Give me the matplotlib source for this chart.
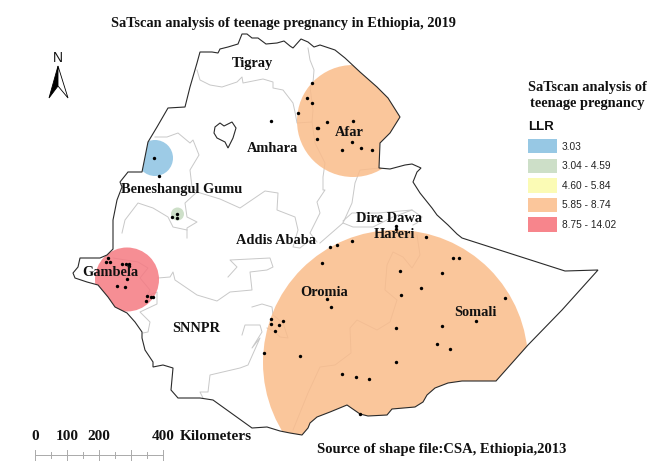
import matplotlib
matplotlib.use("Agg")
import matplotlib.pyplot as plt
from matplotlib.patches import Circle, Polygon, Rectangle

plt.rcParams['font.family'] = ['Liberation Serif', 'DejaVu Serif']

TITLE = "SaTscan analysis of teenage pregnancy in Ethiopia, 2019"
SOURCE = "Source of shape file:CSA, Ethiopia,2013"
LEGEND_TITLE = ["SaTscan analysis of", "teenage pregnancy"]
LEGEND_HEAD = "LLR"
CLASSES = ["3.03", "3.04 - 4.59", "4.60 - 5.84", "5.85 - 8.74", "8.75 - 14.02"]
CLASS_COLORS = ["#97C8E4", "#CDDFC8", "#FBFBB5", "#FBC69B", "#F7858C"]
CLUSTER_COLORS = ["#8CC2E2", "#C5DABF", "#FABC8A", "#F57A82"]

BORDER = [(200,52),(212,52),(218,53),(220,49),(228,47),(238,44),(242,34),(247,34),(252,38),(258,38),
          (266,44),(277,43),(284,41),(290,46),(293,48),(301,39),(308,42),(314,47),(320,45),(335,50),
          (345,58),(360,72),(377,87),(388,98),(400,117),(390,133),(380,143),(379,168),(390,169),(405,165),
          (412,164),(421,168),(417,172),(413,182),(420,193),(432,208),(437,215),(448,225),(457,234),(462,238),
          (565,271),(598,270),(562,310),(528,345),(496,381),(462,381),(448,383),(435,388),(427,395),(423,402),
          (415,407),(392,409),(387,415),(368,416),(360,414),(347,405),(330,412),(317,417),(310,423),(308,428),
          (302,435),(290,433),(280,431),(267,427),(252,428),(213,400),(200,398),(178,398),(171,390),(173,368),
          (163,365),(153,367),(153,362),(145,350),(142,338),(142,332),(135,322),(127,313),(115,307),(108,297),
          (98,285),(87,282),(75,278),(73,273),(78,267),(80,258),(90,258),(100,258),(107,255),(113,249),
          (113,235),(113,220),(117,200),(122,187),(120,182),(128,172),(142,172),(145,157),(148,142),(157,127),
          (168,108),(185,107),(190,87),(197,63)]
LAKE = [(215,127),(220,123),(224,126),(232,122),(236,128),(233,138),(228,148),(225,142),(217,138),(214,133)]

INTERNAL = [
    [(197,70),(200,80),(210,85),(222,87),(237,82),(242,77),(243,83),(263,79),(273,82),(273,88),(283,90),(293,103),(295,112),(297,123),(312,122)],
    [(308,48),(310,60),(314,70),(313,83),(310,87),(313,110),(312,122),(315,143),(325,163),(323,177),(323,190),(325,190),(317,202),(320,213),(310,233),(317,242)],
    [(197,192),(220,199),(240,208),(265,191),(278,193),(277,210),(295,217),(298,230),(293,247),(300,248),(310,240)],
    [(380,168),(360,170),(355,183),(352,203),(343,223),(320,243)],
    [(343,223),(353,227),(373,227),(393,217),(412,210),(422,217),(417,223),(413,225)],
    [(343,221),(352,213),(378,213),(412,210)],
    [(417,235),(420,255),(412,268),(403,257),(393,252),(387,265),(385,290),(397,300),(390,322),(377,330),(357,320),(350,328),(351,353),(335,365),(320,367),(308,393),(293,430)],
    [(155,137),(167,137),(178,133),(190,143),(193,140),(199,155),(190,170),(192,187),(197,192),(185,203),(187,217),(197,222),(187,228),(187,238)],
    [(122,233),(125,220),(138,203),(153,208),(168,217),(173,227),(187,230)],
    [(113,258),(138,262),(148,268),(140,278),(150,290),(147,296),(157,292),(157,304),(140,312),(150,322),(148,332),(143,333)],
    [(158,278),(170,277),(173,272),(175,280),(197,295),(217,301),(230,292),(252,290),(250,272),(267,270),(273,267),(270,258),(230,260),(237,267),(228,277)],
    [(252,307),(262,304),(272,307),(273,315),(283,323),(288,338),(280,337),(275,332),(267,328)],
    [(242,335),(245,325),(260,325),(262,332),(252,348),(260,338),(248,365),(240,368),(210,375),(208,392),(200,392),(203,398)],
]

CLUSTERS = [(155,158,18),(177.5,214,6.5),(353,121,56),(395.5,362.5,132.5),(127,279.5,32)]
CLUSTER_CLASS = [0,1,2,2,3]

POINTS_X = [312,307,312,298,327,317,318,317,271,154,159,177,177,172,353,352,342,361,372,378,396,396,
            330,337,352,322,426,400,442,453,459,421,401,505,476,396,442,437,450,396,342,356,369,360,
            327,331,271,271,283,279,275,264,300,
            108,106,110,122,126,129,129,127,117,125,147,151,153,146]
POINTS_Y = [83,98,103,113,122,128,128,139,121,158,176,214,218,217,121,142,150,148,150,220,226,229,
            247,245,241,263,237,271,273,258,258,288,295,298,321,328,326,344,349,362,374,377,379,414,
            299,307,319,324,321,325,331,353,356,
            258,262,262,264,264,264,266,279,286,287,296,297,297,301]

REGION_NAMES = ["Tigray","Amhara","Afar","Beneshangul Gumu","Dire Dawa","Hareri","Addis Ababa","Oromia","SNNPR","Gambela","Somali"]
REGION_X = [252,272,349,182,389,394,276,324,196,110,475]
REGION_Y = [63,149,132,189,218,235,240,292,328,273,312]

SCALE_LABELS = ["0","100","200","400"]
SCALE_KM = [0,100,200,400]
SCALE_STEP_KM = 50

fig = plt.figure(figsize=(6.69,4.69), dpi=100)
ax = fig.add_axes([0,0,1,1])
ax.set_xlim(0,669); ax.set_ylim(469,0); ax.axis('off')

for line in INTERNAL:
    ax.plot(*zip(*line), color='#C8C8C8', lw=0.7, zorder=1)

clip = Polygon(BORDER, closed=True, transform=ax.transData, fc='none', ec='none')
ax.add_patch(clip)
for (cx,cy,r),k in zip(CLUSTERS,CLUSTER_CLASS):
    c = Circle((cx,cy), r, fc=CLUSTER_COLORS[k], ec='none', alpha=0.85, zorder=2)
    ax.add_patch(c); c.set_clip_path(clip)

ax.add_patch(Polygon(BORDER, closed=True, fc='none', ec='#2a2a2a', lw=0.8, zorder=3))
ax.add_patch(Polygon(LAKE, closed=True, fc='white', ec='#2a2a2a', lw=0.8, zorder=3))
ax.scatter(POINTS_X, POINTS_Y, s=6, c='black', lw=0, zorder=4)

for name,x,y in zip(REGION_NAMES,REGION_X,REGION_Y):
    ax.text(x,y,name,ha='center',va='center',fontsize=10.4,fontweight='bold',color='#111',zorder=5)

ax.text(283.5,24,TITLE,ha='center',va='center',fontsize=10.4,fontweight='bold',color='#111')
ax.text(442,449,SOURCE,ha='center',va='center',fontsize=10.5,fontweight='bold',color='#111')

# north arrow
ax.text(58,58,"N",ha='center',va='center',fontsize=10,family='Liberation Sans',color='#111')
ax.add_patch(Polygon([(58,66),(49,98),(58,86)],closed=True,fc='black',ec='black',lw=0.6))
ax.add_patch(Polygon([(58,66),(68,98),(58,86)],closed=True,fc='white',ec='black',lw=0.6))

# legend
for i,t in enumerate(LEGEND_TITLE):
    ax.text(587,87+17*i,t,ha='center',va='center',fontsize=10.4,fontweight='bold',color='#111')
ax.text(528,127,LEGEND_HEAD,ha='left',va='center',fontsize=9.5,fontweight='bold',family='Liberation Sans',color='#111')
for i,(lab,col) in enumerate(zip(CLASSES,CLASS_COLORS)):
    top = 139+19.6*i
    ax.add_patch(Rectangle((528,top),29,14.5,fc=col,ec='none'))
    ax.text(562,top+7.5,lab,ha='left',va='center',fontsize=7.3,family='Liberation Sans',color='#222')

# scale bar
x0, px_per_km, ybar = 35, 128/400, 455
ax.plot([x0,x0+400*px_per_km],[ybar,ybar],color='#aaa',lw=0.7)
km = 0
while km <= 400:
    h = 5 if km % 100 == 0 else 3
    ax.plot([x0+km*px_per_km]*2,[ybar-h,ybar+h],color='#aaa',lw=0.7)
    km += SCALE_STEP_KM
for lab,v in zip(SCALE_LABELS,SCALE_KM):
    ax.text(x0+v*px_per_km,437,lab,ha='center',va='center',fontsize=11,fontweight='bold',color='#111')
ax.text(180,437,"Kilometers",ha='left',va='center',fontsize=11,fontweight='bold',color='#111')

fig.savefig("out.png",dpi=100)
